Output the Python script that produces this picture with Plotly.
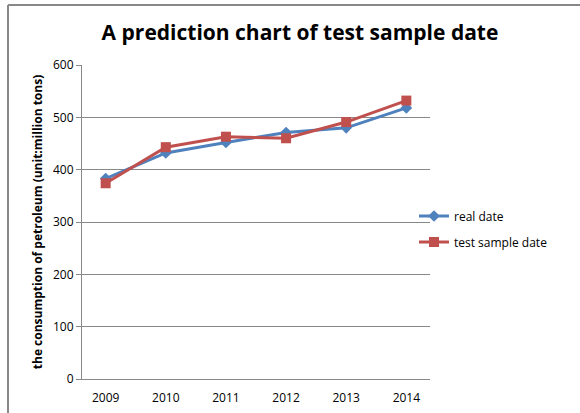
import plotly.graph_objects as go

years = ["2009", "2010", "2011", "2012", "2013", "2014"]
real_date = [383, 432, 452, 471, 480, 518]
test_sample_date = [374, 443, 463, 460, 491, 532]
y_ticks = [0, 100, 200, 300, 400, 500, 600]

W, H = 580, 413
L, R, T, B = 82, 150, 65, 34

fig = go.Figure()
fig.add_trace(go.Scatter(
    x=years, y=real_date, name="real date", mode="lines+markers",
    legendgroup="a",
    line=dict(color="#4F81BD", width=3),
    marker=dict(symbol="diamond", size=9, color="#4F81BD"),
))
fig.add_trace(go.Scatter(
    x=years, y=test_sample_date, name="test sample date", mode="lines+markers",
    legendgroup="b",
    line=dict(color="#C0504D", width=3),
    marker=dict(symbol="square", size=10, color="#C0504D"),
))

pw = W - L - R
ph = H - T - B
bx0 = (8 - L) / pw
bx1 = (W - L) / pw
by0 = -B / ph
by1 = 1 + (T - 5) / ph
# top border
fig.add_shape(type="line", xref="paper", yref="paper",
              x0=bx0, x1=bx1, y0=by1, y1=by1,
              line=dict(color="#888888", width=2), layer="below")
# left border
fig.add_shape(type="line", xref="paper", yref="paper",
              x0=bx0, x1=bx0, y0=by0, y1=by1,
              line=dict(color="#888888", width=2), layer="below")

fig.update_layout(
    width=W, height=H,
    margin=dict(l=L, r=R, t=T, b=B, autoexpand=False),
    paper_bgcolor="white", plot_bgcolor="white",
    font=dict(family="Open Sans", size=12, color="black"),
    title=dict(text="<b>A prediction chart of test sample date</b>",
               x=300 / W, xanchor="center", y=1 - 33 / H, yanchor="middle",
               font=dict(size=21, family="Open Sans", color="black")),
    showlegend=True,
    legend=dict(x=0.954, xanchor="left", y=1 - 164 / ph, yanchor="middle",
                font=dict(size=12), itemwidth=30, tracegroupgap=7,
                traceorder="grouped",
                bgcolor="rgba(0,0,0,0)"),
    xaxis=dict(type="category", showgrid=False, showline=True,
               linecolor="#888888", linewidth=1, ticks="", tickfont=dict(size=12),
               ticklabelstandoff=8, automargin=False),
    yaxis=dict(range=[0, 600], tickvals=y_ticks, showgrid=True,
               gridcolor="#888888", gridwidth=1, showline=True,
               linecolor="#888888", linewidth=1, ticks="outside", ticklen=5,
               tickcolor="#888888", zeroline=False, tickfont=dict(size=12),
               automargin=False,
               title=dict(text="<b>the consumption of petroleum (unit:million tons)</b>",
                          font=dict(size=12), standoff=7)),
)

fig.write_html("out.html", config={"displayModeBar": False},
               post_script="document.body.style.margin='0';document.body.style.overflow='hidden';")
